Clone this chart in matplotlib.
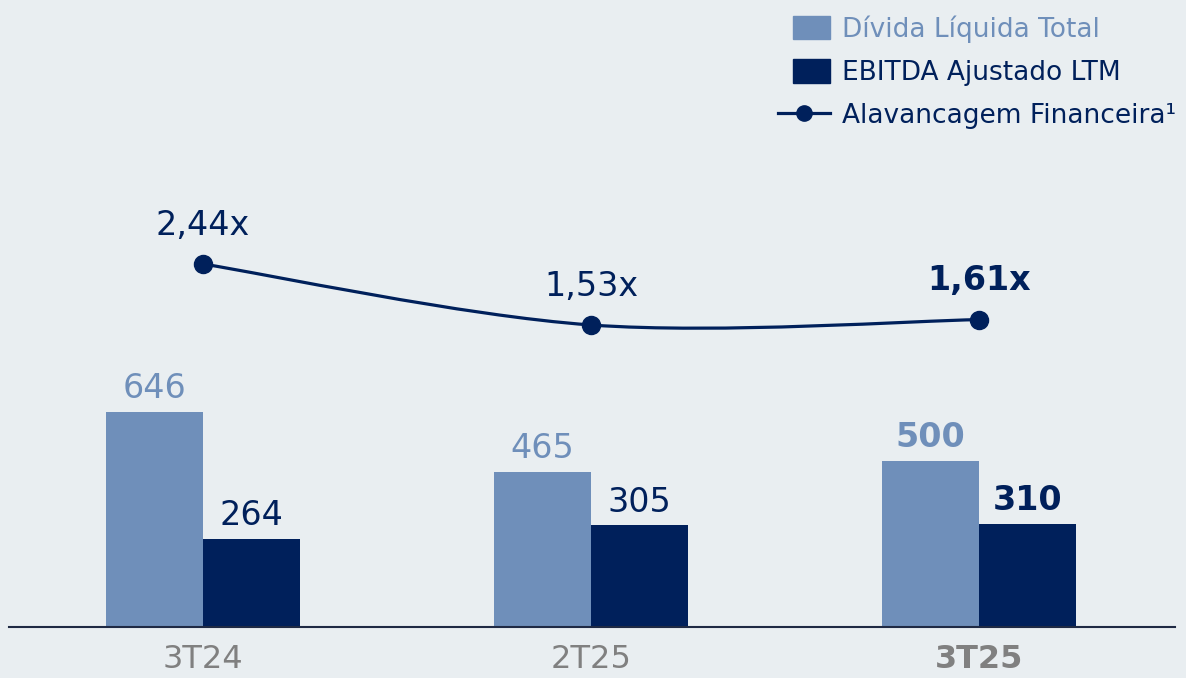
import matplotlib.pyplot as plt
from matplotlib.path import Path
from matplotlib.patches import PathPatch, Patch, Rectangle
from matplotlib.lines import Line2D
from matplotlib.legend_handler import HandlerPatch
import numpy as np

periodos = ['3T24', '2T25', '3T25']
divida_liquida = [646, 465, 500]
ebitda_ajustado = [264, 305, 310]
alavancagem = [2.44, 1.53, 1.61]
rotulos_alav = ['2,44x', '1,53x', '1,61x']

cor_clara = '#6F8FBA'
cor_escura = '#00205B'
cor_fundo = '#E9EEF1'
cor_eixo = '#808080'

plt.rcParams['font.family'] = ['DejaVu Sans']

fig = plt.figure(figsize=(11.86, 6.78), dpi=100, facecolor=cor_fundo)
ax = fig.add_axes([9/1186, 51/678, 1166/1186, 627/678])
ax.set_facecolor(cor_fundo)

x = np.arange(len(periodos))
w = 0.25
b1 = ax.bar(x - w/2, divida_liquida, w, color=cor_clara, zorder=2)
b2 = ax.bar(x + w/2, ebitda_ajustado, w, color=cor_escura, zorder=2)

ax.set_xlim(-0.5, 2.505)
ax.set_ylim(0, 1884)

# rotulos das barras (ultimo periodo em negrito)
for i in range(len(periodos)):
    peso = 'bold' if i == len(periodos) - 1 else 'normal'
    ax.annotate(str(divida_liquida[i]), (x[i] - w/2, divida_liquida[i]), xytext=(0, 10),
                textcoords='offset points', ha='center', va='baseline', fontsize=24,
                color=cor_clara, fontweight=peso)
    ax.annotate(str(ebitda_ajustado[i]), (x[i] + w/2, ebitda_ajustado[i]), xytext=(0, 10),
                textcoords='offset points', ha='center', va='baseline', fontsize=24,
                color=cor_escura, fontweight=peso)

for s in ['top', 'right', 'left']:
    ax.spines[s].set_visible(False)
ax.spines['bottom'].set_color('#1F2A44')
ax.spines['bottom'].set_linewidth(1.5)
ax.set_yticks([])
ax.set_xticks(x)
ax.set_xticklabels(periodos, fontsize=23, color=cor_eixo)
ax.get_xticklabels()[-1].set_fontweight('bold')
ax.tick_params(axis='x', length=0, pad=12)

# eixo secundario para a alavancagem
ax2 = ax.twinx()
ax2.set_ylim(-2.978, 6.381)
ax2.axis('off')

# linha suavizada (bezier pelos pontos)
pts = np.column_stack([x, alavancagem]).astype(float)
ext = np.vstack([pts[0], pts, pts[-1]])
verts = [tuple(pts[0])]
codes = [Path.MOVETO]
for i in range(len(pts) - 1):
    p0, p1, p2, p3 = ext[i], ext[i+1], ext[i+2], ext[i+3]
    c1 = p1 + (p2 - p0) / 6
    c2 = p2 - (p3 - p1) / 6
    verts += [tuple(c1), tuple(c2), tuple(p2)]
    codes += [Path.CURVE4] * 3
ax2.add_patch(PathPatch(Path(verts, codes), fill=False, edgecolor=cor_escura, lw=2.3, zorder=3))
ax2.plot(x, alavancagem, 'o', color=cor_escura, markersize=13, zorder=4)

for i in range(len(periodos)):
    peso = 'bold' if i == len(periodos) - 1 else 'normal'
    ax2.annotate(rotulos_alav[i], (x[i], alavancagem[i]), xytext=(0, 21),
                 textcoords='offset points', ha='center', va='baseline', fontsize=24,
                 color=cor_escura, fontweight=peso)


def patch_curto(legend, orig_handle, xdescent, ydescent, width, height, fontsize):
    return Rectangle((-xdescent + width * 0.3, -ydescent), width * 0.7, height)


handles = [Patch(color=cor_clara), Patch(color=cor_escura),
           Line2D([], [], color=cor_escura, lw=2.3, marker='o', markersize=11)]
labels = ['Dívida Líquida Total', 'EBITDA Ajustado LTM', 'Alavancagem Financeira¹']
leg = fig.legend(handles, labels, loc='upper right', bbox_to_anchor=(1.003, 0.997),
                 frameon=False, fontsize=19, handlelength=2.0, handleheight=1.0,
                 labelspacing=0.62, handletextpad=0.45, borderaxespad=0.1,
                 handler_map={Patch: HandlerPatch(patch_func=patch_curto)})
for t, c in zip(leg.get_texts(), [cor_clara, cor_escura, cor_escura]):
    t.set_color(c)

fig.savefig('out.png', dpi=100, facecolor=cor_fundo)
